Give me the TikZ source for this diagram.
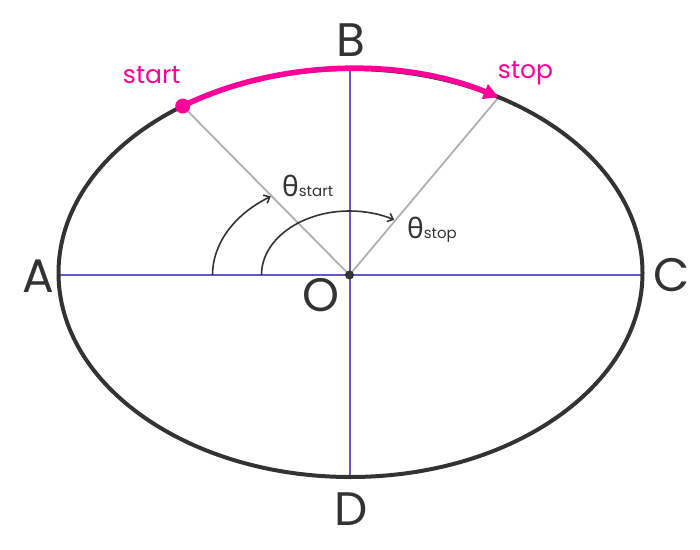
\documentclass[tikz,border=0pt]{standalone}
\usepackage{fontspec}
\setmainfont{Poppins}
\newfontfamily\thetafont{Noto Sans}
\usetikzlibrary{arrows.meta}
\definecolor{hotpink}{RGB}{255,0,153}
\definecolor{ink}{RGB}{51,51,51}
\definecolor{axisblue}{RGB}{100,90,195}
\definecolor{raygray}{RGB}{175,175,175}
\tikzset{
  axisline/.style={draw=axisblue, line width=2pt},
  rayline/.style={draw=raygray, line width=1.8pt},
  bigletter/.style={text=ink, inner sep=0pt, anchor=base, font=\fontsize{47}{47}\selectfont},
  pinklabel/.style={text=hotpink, inner sep=0pt, anchor=base, font=\fontsize{25}{25}\selectfont},
  thetalabel/.style={text=ink, inner sep=0pt, anchor=base west},
  anglearc/.style={draw=ink, line width=1.6pt, -{Straight Barb[length=5pt,width=9pt,line width=1.6pt]}},
}
\newcommand{\thlab}[1]{{\thetafont\fontsize{28}{28}\selectfont θ}{\fontsize{15}{15}\selectfont #1}}
\begin{document}
\begin{tikzpicture}[x=1pt,y=1pt]
\useasboundingbox (0,0) rectangle (700,549);
% centres
\coordinate (E) at (350.5,276);
\coordinate (O) at (349.5,274);
% axis ends
\coordinate (Al) at (58.5,274);
\coordinate (Cr) at (642.5,274);
\coordinate (Bt) at (349.5,480);
\coordinate (Db) at (349.5,72);
% start / stop points on ellipse
\coordinate (S) at ([shift={(125.07:292pt and 204pt)}]E);
\coordinate (T) at ([shift={(59.5:292pt and 204pt)}]E);
% angle arc starts
\coordinate (a1) at ([shift={(-137,0)}]O);
\coordinate (a2) at ([shift={(-88,0)}]O);

\draw[axisline] (Al) -- (Cr);
\draw[axisline] (Bt) -- (Db);
\draw[rayline] (O) -- (S);
\draw[rayline] (O) -- (T);
\draw[draw=ink, line width=4pt] (E) ellipse[x radius=292pt, y radius=204pt];
\draw[draw=hotpink, line width=5.5pt, -{Triangle[length=15pt,width=15pt]}]
  (S) arc[start angle=125.07, end angle=59.5, x radius=292pt, y radius=204pt];
\fill[hotpink] (S) circle[radius=7.5pt];
\draw[anglearc] (a1) arc[start angle=180, end angle=125.07, x radius=137pt, y radius=96pt];
\draw[anglearc] (a2) arc[start angle=180, end angle=59.5, x radius=88pt, y radius=64pt];
\fill[ink] (O) circle[radius=4.5pt];

\node[bigletter] (A) at (38,256) {A};
\node[bigletter] (C) at (671.5,257) {C};
\node[bigletter] (B) at (350.5,492.5) {B};
\node[bigletter] (D) at (351.5,24) {D};
\node[bigletter] (Olab) at (321,237) {O};
\node[pinklabel] (startlab) at (151.7,465) {start};
\node[pinklabel] (stoplab) at (525.5,470) {stop};
\node[thetalabel] (th1) at (282,352) {\thlab{start}};
\node[thetalabel] (th2) at (407,310) {\thlab{stop}};
\end{tikzpicture}
\end{document}
